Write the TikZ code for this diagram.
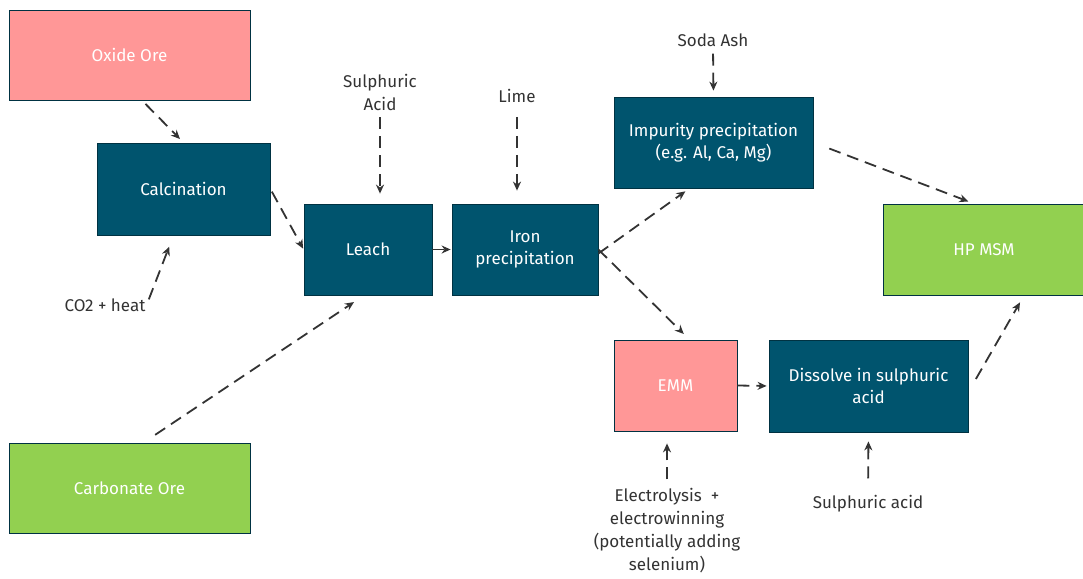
\documentclass[tikz,border=0pt]{standalone}
\usepackage{fontspec}
\setmainfont{Fira Sans}
\usetikzlibrary{arrows.meta,calc}
\definecolor{teal1}{HTML}{00546E}
\definecolor{pink1}{HTML}{FF9797}
\definecolor{green1}{HTML}{92D050}
\definecolor{ink}{HTML}{333333}
\tikzstyle{box}=[rectangle,draw=teal1!60!black,line width=.8pt,text=white,align=center,inner sep=2pt,font=\fontsize{17}{22}\selectfont]
\tikzstyle{tb}=[box,fill=teal1]
\tikzstyle{pb}=[box,fill=pink1]
\tikzstyle{gb}=[box,fill=green1]
\tikzstyle{lbl}=[text=ink,align=center,inner sep=1pt,font=\fontsize{17}{23}\selectfont]
\tikzstyle{flow}=[draw=ink,line width=1.8pt,dash pattern=on 12pt off 7pt,-{Stealth[length=9pt,width=8pt]}]

\begin{document}
\begin{tikzpicture}[x=1pt,y=-1pt]
\useasboundingbox (0,0) rectangle (1083,578);
\node[pb,minimum width=241pt,minimum height=90pt] (oxide) at (129.5,55) {Oxide Ore};
\node[tb,minimum width=173pt,minimum height=92pt] (calc) at (183.5,189) {Calcination};
\node[tb,minimum width=128pt,minimum height=91pt] (leach) at (368,249.5) {Leach};
\node[tb,minimum width=146pt,minimum height=91pt] (iron) at (525,249.5) {Iron\\precipitation};
\node[tb,minimum width=199pt,minimum height=91pt] (imp) at (713.5,142.5) {Impurity precipitation\\(e.g. Al, Ca, Mg)};
\node[gb,minimum width=202pt,minimum height=91pt] (hp) at (984,249.5) {HP MSM};
\node[pb,minimum width=123pt,minimum height=91pt] (emm) at (675.5,385.5) {EMM};
\node[tb,minimum width=199pt,minimum height=92pt] (dis) at (868.5,386) {Dissolve in sulphuric\\acid};
\node[gb,minimum width=241pt,minimum height=90pt] (carb) at (129.5,488) {Carbonate Ore};

\node[lbl] (sulph) at (380,92) {Sulphuric\\Acid};
\node[lbl] (lime) at (517,96) {Lime};
\node[lbl] (soda) at (713,40) {Soda Ash};
\node[lbl] (co2) at (105,305) {CO2 + heat};
\node[lbl] (elec) at (667,531) {Electrolysis\ \ +\\electrowinning\\(potentially adding\\selenium)};
\node[lbl] (sa2) at (868,504) {Sulphuric acid};

\draw[flow,shorten <=5pt,shorten >=5pt] ([xshift=12.5pt]oxide.south) -- (calc.north);
\draw[flow,shorten <=3pt,shorten >=1pt] (calc.east) -- (leach.west);
\draw[flow,shorten <=6pt,shorten >=12pt] (co2.east) -- ([xshift=-10pt]calc.south);
\draw[flow,shorten <=6pt,shorten >=10pt] (sulph.south) -- (sulph.south |- leach.north);
\draw[flow,shorten <=14pt,shorten >=12pt] ([xshift=14pt]carb.north) -- ([xshift=-4pt]leach.south);
\draw[flow,shorten >=1pt] (leach.east) -- (iron.west);
\draw[flow,shorten <=13pt,shorten >=13pt] (lime.south) -- (lime.south |- iron.north);
\draw[flow,shorten >=5pt] ([yshift=-4pt]iron.east) -- ([xshift=-24pt]imp.south);
\draw[flow,shorten >=8pt] (iron.east) -- ([xshift=14pt]emm.north);
\draw[flow,shorten <=6pt,shorten >=6pt] (soda.south) -- (imp.north);
\draw[flow,shorten <=17pt,shorten >=6pt] (imp.east) -- ([xshift=-10pt]hp.north);
\draw[flow,shorten >=2pt] (emm.east) -- (dis.west);
\draw[flow,shorten <=8pt,shorten >=12pt] (elec.north) -- (elec.north |- emm.south);
\draw[flow,shorten <=16pt,shorten >=9pt] (sa2.north) -- (dis.south);
\draw[flow,shorten <=15pt,shorten >=8pt] ([yshift=-6pt]dis.east) -- ([xshift=40pt]hp.south);
\end{tikzpicture}
\end{document}
